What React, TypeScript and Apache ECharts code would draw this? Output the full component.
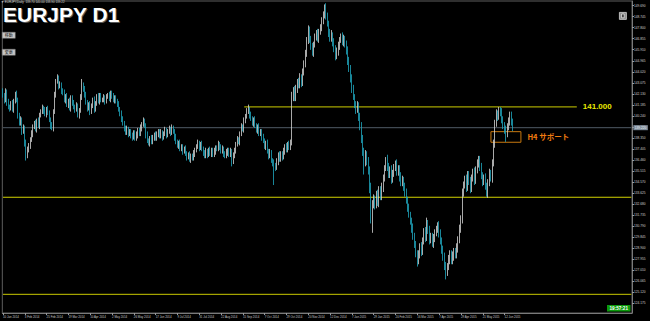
import React, { useEffect, useRef } from 'react';
import * as echarts from 'echarts';

// Daily closes EURJPY, bar 0 = 10 Jan 2014
const closes = [
  142.0, 141.6, 142.3, 141.4, 141.0, 140.9, 141.3, 140.8, 141.5, 142.1,
  141.6, 140.3, 139.6, 139.9, 138.9, 139.2, 137.9, 136.8, 137.4, 137.6,
  138.2, 138.7, 139.3, 139.6, 139.1, 139.8, 139.4, 140.3, 140.6, 140.9,
  140.7, 140.4, 140.8, 140.5, 139.9, 139.4, 139.2, 140.6, 142.0, 143.2,
  143.5, 142.8, 142.9, 142.4, 142.2, 141.6, 141.9, 141.2, 141.5, 140.9,
  141.8, 141.3, 141.0, 140.8, 141.1, 140.3, 140.7, 141.8, 142.9, 142.6,
  142.0, 141.4, 140.9, 141.2, 140.6, 141.1, 141.6, 140.8, 141.3, 141.9,
  141.5, 142.0, 141.6, 141.6, 141.8, 141.5, 141.9, 142.0, 141.7, 142.2,
  141.9, 141.6, 141.8, 141.5, 141.2, 140.8, 140.5, 139.9, 139.6, 139.2,
  138.8, 139.1, 138.7, 138.9, 138.5, 138.4, 138.8, 138.3, 138.6, 139.0,
  138.7, 139.2, 139.5, 139.8, 139.4, 138.6, 138.1, 137.9, 138.3, 138.0,
  138.4, 138.6, 138.3, 138.7, 138.9, 138.5, 138.8, 138.4, 138.7, 139.0,
  138.6, 138.9, 139.1, 138.8, 139.2, 138.9, 138.4, 138.0, 137.7, 137.9,
  137.4, 137.6, 137.2, 137.4, 137.0, 136.7, 136.9, 136.5, 136.8, 136.6,
  137.0, 137.3, 137.6, 137.9, 137.5, 137.8, 137.4, 137.1, 136.8, 137.2,
  136.9, 137.3, 137.0, 137.3, 136.9, 137.2, 137.5, 137.4, 137.8, 137.6,
  137.2, 137.4, 137.0, 136.8, 137.1, 137.3, 136.9, 137.2, 136.4, 136.8,
  137.3, 137.8, 138.2, 138.0, 138.7, 139.3, 139.1, 139.8, 140.2, 140.6,
  140.8, 140.3, 140.0, 139.6, 139.9, 139.4, 139.0, 139.3, 138.7, 138.9,
  138.4, 138.1, 137.6, 137.9, 137.2, 136.8, 137.1, 136.4, 136.2, 136.0,
  135.8, 136.3, 136.9, 136.5, 137.0, 136.7, 137.2, 137.6, 137.3, 137.8,
  137.6, 138.0, 141.9, 142.4, 141.8, 142.6, 143.2, 142.9, 143.5, 143.1,
  144.0, 144.8, 145.6, 146.7, 147.6, 146.9, 146.2, 145.7, 146.4, 147.0,
  147.3, 146.9, 147.5, 147.8, 148.4, 149.0, 149.5, 148.8, 148.2, 147.4,
  146.9, 147.2, 146.6, 146.0, 145.4, 145.7, 146.3, 146.8, 147.0, 146.6,
  146.9, 146.4, 145.8, 145.0, 144.3, 143.4, 142.6, 141.9, 141.2, 140.8,
  141.1, 140.2, 139.3, 138.3, 137.1, 136.2, 137.0, 136.4, 135.5, 134.0,
  131.4, 132.6, 133.2, 132.6, 133.5, 132.8, 133.9, 133.3, 134.1, 134.9,
  135.8, 136.5, 135.9, 135.2, 135.6, 134.8, 135.3, 135.9, 136.1, 135.4,
  135.7, 135.0, 134.5, 134.8, 134.2, 133.6, 133.0, 132.4, 131.8, 131.2,
  130.6, 129.9, 129.2, 128.5, 127.8, 128.3, 129.0, 128.6, 129.5, 130.3,
  129.8, 131.0, 130.4, 129.6, 129.9, 129.3, 129.7, 130.2, 130.6, 130.9,
  130.1, 129.5, 128.8, 128.1, 127.4, 126.8, 127.3, 127.9, 128.4, 127.8,
  128.2, 128.6, 128.3, 128.9, 129.6, 130.5, 131.4, 133.6, 134.3, 134.8,
  134.1, 135.2, 134.6, 134.0, 134.9, 135.4, 134.7, 135.6, 136.2, 136.5,
  135.8, 135.1, 134.6, 134.9, 134.2, 133.6, 134.5, 135.3, 134.9, 136.2,
  137.8, 139.6, 140.4, 140.2, 140.8, 140.5, 139.9, 139.4, 139.0, 138.7,
  139.3, 139.8, 140.3, 139.7, 139.22,
];
const firstOpen = 142.3;

// wick lengths, in tenths of a yen
const upperWicks = [
  3,2,3,2,3,2,2,3,2,2, 3,2,2,3,2,3,2,3,2,3, 2,3,2,2,3,2,3,2,2,3, 2,3,2,3,2,2,3,2,3,2,
  3,2,3,2,2,3,2,3,2,3, 2,2,3,2,3,2,2,3,5,2, 2,3,2,2,3,2,2,3,2,2, 3,2,2,2,3,2,2,2,3,2,
  2,3,2,2,2,3,2,2,3,2, 2,3,2,2,2,3,2,2,3,2, 2,3,2,3,2,2,3,2,2,3, 2,2,3,2,2,2,3,2,2,3,
  2,2,3,2,3,2,2,3,2,2, 3,2,2,2,3,2,2,3,2,2, 3,2,2,3,2,2,3,2,2,3, 2,2,3,2,2,3,2,2,3,2,
  2,3,2,2,3,2,2,3,2,3, 2,2,3,2,2,3,2,3,2,3, 4,2,3,2,2,3,2,2,3,2, 2,3,2,2,3,2,3,2,2,3,
  2,3,2,3,2,2,3,2,3,2, 3,2,4,3,4,3,2,3,4,3, 3,2,3,3,4,3,2,3,2,3, 3,4,2,3,3,2,3,4,3,2,
  3,4,2,3,3,4,3,2,3,4, 3,2,3,4,3,3,4,3,2,3, 4,3,3,4,3,4,3,2,3,4, 5,4,3,2,3,4,3,3,4,3,
  2,2,4,3,3,4,3,2,3,4, 3,3,4,3,2,3,4,3,3,2, 3,4,3,3,2,4,3,4,3,3, 4,5,3,4,3,3,4,3,2,2,
  3,4,3,3,4,3,3,4,3,3, 4,3,3,4,3,4,3,4,3,3, 4,3,3,4,3,3,4,3,3,3, 3,4,3,3,4,3,3,4,3,3,
  4,3,4,3,2,2,4,3,3,4, 3,3,3,3,3,
];
const lowerWicks = [
  2,3,2,3,2,3,2,2,3,2, 2,3,2,2,3,2,3,4,2,3, 2,2,3,2,2,3,2,3,2,2, 3,2,3,2,2,3,2,3,2,2,
  2,3,2,3,2,2,3,2,3,2, 3,2,2,3,2,2,3,2,2,3, 2,2,3,2,3,2,2,3,2,2, 2,3,2,2,2,3,2,2,2,3,
  2,2,3,2,2,2,3,2,2,3, 2,2,3,2,2,3,2,2,2,3, 2,2,3,2,2,3,2,2,3,2, 2,3,2,2,3,2,2,3,2,2,
  3,2,2,3,2,2,3,2,2,3, 2,2,3,2,2,3,2,2,3,2, 2,3,2,2,3,2,2,3,2,2, 3,2,2,3,2,2,3,2,2,3,
  2,2,3,2,2,3,2,2,5,3, 2,3,2,2,3,2,2,3,2,2, 2,3,2,2,3,2,2,3,2,2, 3,2,2,3,2,3,2,2,3,17,
  3,2,3,2,2,3,2,3,2,2, 3,3,3,4,3,3,4,3,3,4, 3,3,4,3,3,4,3,3,4,3, 3,3,4,3,3,3,4,3,3,4,
  3,3,4,3,4,3,3,4,3,3, 4,3,3,4,3,3,4,3,3,4, 3,4,3,4,3,10,3,4,3,4, 4,12,3,4,3,3,4,3,3,4,
  3,3,4,3,3,4,3,3,4,3, 3,4,3,3,4,3,3,4,3,3, 4,3,3,4,5,3,3,4,3,3, 4,3,3,4,3,3,4,3,3,4,
  3,3,4,3,4,6,3,3,4,3, 3,4,3,3,4,3,3,4,3,3, 4,3,3,4,3,3,4,3,3,4, 3,3,4,3,3,3,4,3,3,4,
  3,3,3,4,3,3,3,3,3,7, 3,3,4,3,3,
];

// date labels, one every 16 bars
const xLabelDates = [
  '10 Jan 2014', '3 Feb 2014', '25 Feb 2014', '19 Mar 2014', '10 Apr 2014', '2 May 2014',
  '26 May 2014', '17 Jun 2014', '9 Jul 2014', '31 Jul 2014', '22 Aug 2014', '15 Sep 2014',
  '7 Oct 2014', '29 Oct 2014', '20 Nov 2014', '12 Dec 2014', '7 Jan 2015', '29 Jan 2015',
  '20 Feb 2015', '16 Mar 2015', '7 Apr 2015', '29 Apr 2015', '21 May 2015', '12 Jun 2015',
];
const labelStep = 16;
const totalSlots = 462;

const yTickValues = [
  124.175, 125.12, 126.065, 127.01, 127.955, 128.9, 129.845, 130.79, 131.735, 132.68,
  133.625, 134.57, 135.515, 136.46, 137.405, 138.35, 139.295, 140.24, 141.185, 142.13,
  143.075, 144.02, 144.965, 145.91, 146.855, 147.8, 148.745, 149.69,
];

const resistanceLevel = 141.0;
const resistanceFromBar = 177;
const resistanceToBar = 421;
const supportLevel = 133.25;
const lowerLevel = 124.92;
const currentPrice = 139.22;
const zoneLow = 137.97;
const zoneHigh = 138.88;
const zoneFromBar = 358;
const zoneToBar = 380;
const headerText = '\u25BC EURJPY,Daily  139.70 140.00 138.90 139.22';
const clockText = '19:57:21';

export default function App() {
  const ref = useRef<HTMLDivElement>(null);
  useEffect(() => {
    if (!ref.current) return;
    const chart = echarts.init(ref.current, null, { renderer: 'svg' });
    const ohlc = closes.map((c, i) => {
      const o = i === 0 ? firstOpen : closes[i - 1];
      const h = Math.max(o, c) + upperWicks[i] / 10;
      const l = Math.min(o, c) - lowerWicks[i] / 10;
      return [o, c, +l.toFixed(2), +h.toFixed(2)];
    });
    const cats = Array.from({ length: totalSlots }, (_, i) => String(i));
    const lastSlot = totalSlots - 1;
    const showIdx = (i: number) => i % labelStep === 0 && i / labelStep < xLabelDates.length;
    const sans = '"Liberation Sans", Arial, sans-serif';
    const jp = '"Noto Sans CJK JP", sans-serif';
    const hLine = (name: string, from: number, to: number, value: number, color: string, width: number, endLabel?: any) => ({
      type: 'line',
      name,
      data: [[from, value], [to, value]],
      showSymbol: false,
      symbol: 'none',
      silent: true,
      clip: false,
      z: 3,
      lineStyle: { color, width, type: 'solid' },
      itemStyle: { color },
      emphasis: { disabled: true },
      endLabel: endLabel || { show: false },
    });
    chart.setOption({
      animation: false,
      backgroundColor: '#000000',
      grid: { left: 0, right: 18, top: 1, bottom: 8, show: true, borderColor: '#5e5e5e', borderWidth: 1 },
      xAxis: {
        type: 'category',
        data: cats,
        boundaryGap: true,
        axisLine: { show: true, lineStyle: { color: '#7a7a7a' } },
        axisTick: { show: true, interval: (i: number) => showIdx(i), alignWithLabel: true, length: 2, lineStyle: { color: '#9a9a9a' } },
        axisLabel: {
          interval: (i: number) => showIdx(i),
          formatter: (_v: string, i: number) => (showIdx(i) ? xLabelDates[i / labelStep] : ''),
          fontSize: 2.9, color: '#c8c8c8', align: 'left', margin: 2, fontFamily: sans,
        },
        splitLine: { show: false },
      },
      yAxis: {
        type: 'value',
        position: 'right',
        min: 123.317,
        max: 150.093,
        splitLine: { show: false },
        axisLine: { show: true, lineStyle: { color: '#7a7a7a' } },
        axisTick: { show: true, length: 2, customValues: yTickValues, lineStyle: { color: '#9a9a9a' } },
        axisLabel: {
          customValues: yTickValues,
          formatter: (v: number) => v.toFixed(3),
          fontSize: 3.2, color: '#cfcfcf', margin: 2, fontFamily: sans,
        },
      },
      series: [
        hLine('price', 0, lastSlot, currentPrice, '#4f5a66', 1, {
          show: true, distance: 2, formatter: currentPrice.toFixed(3),
          fontSize: 3.2, color: '#f0f4f8', backgroundColor: '#7f8c9a', padding: [1, 1.5], fontFamily: sans,
        }),
        {
          type: 'candlestick',
          data: ohlc,
          barWidth: 1.2,
          large: false,
          z: 4,
          itemStyle: {
            color: '#ececec', color0: '#1fa8c0',
            borderColor: '#d4d4d4', borderColor0: '#1fa8c0', borderWidth: 0.8,
          },
          markArea: {
            silent: true,
            itemStyle: { color: 'rgba(0,0,0,0)', borderColor: '#c8780f', borderWidth: 1 },
            label: {
              show: true, position: 'right', distance: 6, formatter: 'H4 サポート',
              color: '#f07c10', fontWeight: 'bold', fontSize: 7.5, fontFamily: jp,
            },
            data: [[{ coord: [zoneFromBar, zoneHigh] }, { coord: [zoneToBar, zoneLow] }]],
          },
        },
        hLine('support', 0, lastSlot, supportLevel, '#d2d200', 1),
        hLine('lower', 0, lastSlot, lowerLevel, '#c8c800', 1),
        hLine('resistance', resistanceFromBar, resistanceToBar, resistanceLevel, '#a3a300', 1.2, {
          show: true, distance: 6, formatter: resistanceLevel.toFixed(3),
          color: '#e8e800', fontWeight: 'bold', fontSize: 8, fontFamily: sans,
        }),
      ],
      graphic: [
        { type: 'text', left: 1, top: 0, style: { text: headerText, fill: '#cfcfcf', font: `3px ${sans}` } },
        { type: 'text', left: 4, top: 5, style: { text: 'EURJPY D1', fill: '#5a5a5a', font: `bold 21px ${sans}` } },
        { type: 'text', left: 3, top: 4, style: { text: 'EURJPY D1', fill: '#ffffff', font: `bold 21px ${sans}` } },
        {
          type: 'group', left: 2, top: 32,
          children: [
            { type: 'rect', shape: { x: 0, y: 0, width: 13, height: 6 }, style: { fill: '#c4c4c4', stroke: '#7a7a7a', lineWidth: 0.5 } },
            { type: 'text', x: 6.5, y: 3, style: { text: '移動', fill: '#222', font: `4px ${jp}`, align: 'center', verticalAlign: 'middle' } },
          ],
        },
        {
          type: 'group', left: 2, top: 49,
          children: [
            { type: 'rect', shape: { x: 0, y: 0, width: 13, height: 6 }, style: { fill: '#c4c4c4', stroke: '#7a7a7a', lineWidth: 0.5 } },
            { type: 'text', x: 6.5, y: 3, style: { text: '変更', fill: '#222', font: `4px ${jp}`, align: 'center', verticalAlign: 'middle' } },
          ],
        },
        {
          type: 'group', left: 619, top: 12,
          children: [
            { type: 'rect', shape: { x: 0, y: 0, width: 7, height: 7 }, style: { fill: '#8e8e8e', stroke: '#d6d6d6', lineWidth: 0.8 } },
            { type: 'rect', shape: { x: 2.2, y: 1.6, width: 2.6, height: 3.8 }, style: { fill: '#3a3a3a', stroke: '#f4f4f4', lineWidth: 0.7 } },
          ],
        },
        {
          type: 'group', left: 607, top: 305,
          children: [
            { type: 'rect', shape: { x: 0, y: 0, width: 23.5, height: 6.5 }, style: { fill: '#0c9a0c' } },
            { type: 'text', x: 11.75, y: 3.3, style: { text: clockText, fill: '#ffffff', font: `bold 4.6px ${sans}`, align: 'center', verticalAlign: 'middle' } },
          ],
        },
      ],
    });
    return () => chart.dispose();
  }, []);
  return <div ref={ref} style={{ position: 'fixed', left: 0, top: 0, width: 650, height: 321 }} />;
}
